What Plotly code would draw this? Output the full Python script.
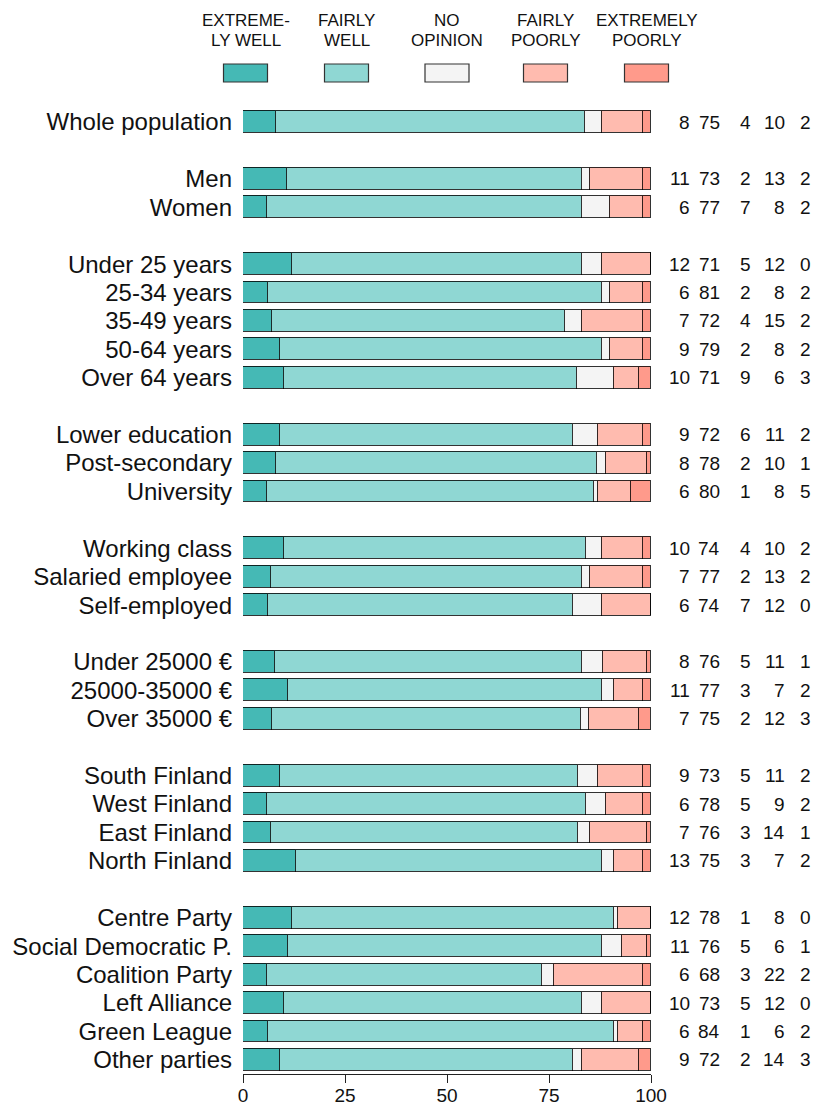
import plotly.graph_objects as go

categories = ["Whole population", "Men", "Women", "Under 25 years", "25-34 years",
              "35-49 years", "50-64 years", "Over 64 years", "Lower education",
              "Post-secondary", "University", "Working class", "Salaried employee",
              "Self-employed", "Under 25000 €", "25000-35000 €", "Over 35000 €",
              "South Finland", "West Finland", "East Finland", "North Finland",
              "Centre Party", "Social Democratic P.", "Coalition Party", "Left Alliance",
              "Green League", "Other parties"]
# row positions (gaps between groups)
row_pos = [0, 2, 3, 5, 6, 7, 8, 9, 11, 12, 13, 15, 16, 17, 19, 20, 21,
           23, 24, 25, 26, 28, 29, 30, 31, 32, 33]

extremely_well = [8, 11, 6, 12, 6, 7, 9, 10, 9, 8, 6, 10, 7, 6, 8, 11, 7, 9, 6, 7, 13, 12, 11, 6, 10, 6, 9]
fairly_well    = [75, 73, 77, 71, 81, 72, 79, 71, 72, 78, 80, 74, 77, 74, 76, 77, 75, 73, 78, 76, 75, 78, 76, 68, 73, 84, 72]
no_opinion     = [4, 2, 7, 5, 2, 4, 2, 9, 6, 2, 1, 4, 2, 7, 5, 3, 2, 5, 5, 3, 3, 1, 5, 3, 5, 1, 2]
fairly_poorly  = [10, 13, 8, 12, 8, 15, 8, 6, 11, 10, 8, 10, 13, 12, 11, 7, 12, 11, 9, 14, 7, 8, 6, 22, 12, 6, 14]
extremely_poorly = [2, 2, 2, 0, 2, 2, 2, 3, 2, 1, 5, 2, 2, 0, 1, 2, 3, 2, 2, 1, 2, 0, 1, 2, 0, 2, 3]

series_lines = [("EXTREME-", "LY WELL"), ("FAIRLY", "WELL"), ("NO", "OPINION"),
                ("FAIRLY", "POORLY"), ("EXTREMELY", "POORLY")]
series = [extremely_well, fairly_well, no_opinion, fairly_poorly, extremely_poorly]
colors = ["#45B9B5", "#8FD7D3", "#F4F4F4", "#FFBBAF", "#FF9A8B"]

x_ticks = [0, 25, 50, 75, 100]

totals = [sum(s[i] for s in series) for i in range(len(categories))]

OFF = 8  # page body margin
W, H = 819 - OFF, 1107 - OFF
L, R, T, B = 243 - OFF, 168, 100 - OFF, 33
pw = W - L - R
ph = H - T - B
row_px = 28.42
y_top = -(122 - 100) / row_px
y_bot = y_top + ph / row_px


def px_x(px):
    return (px - 243) / pw


def px_y(py):
    return 1 - (py - 100) / ph


fig = go.Figure()
for (l1, l2), vals, col in zip(series_lines, series, colors):
    fig.add_trace(go.Bar(
        y=row_pos,
        x=[v / t * 100 for v, t in zip(vals, totals)],
        orientation="h",
        name=l1 + " " + l2,
        marker=dict(color=col, line=dict(color="rgba(0,0,0,0.8)", width=1.3)),
        width=0.77,
        showlegend=False,
        hoverinfo="skip",
    ))

FONT = "Liberation Sans, Arial, sans-serif"

annotations = []
# numeric columns (right-aligned)
col_px = [692, 722, 753, 787, 813]
for vals, cx in zip(series, col_px):
    for rp, v in zip(row_pos, vals):
        annotations.append(dict(
            x=px_x(cx), xref="paper", y=rp, yref="y",
            text=str(v), showarrow=False, xanchor="right", yanchor="middle",
            font=dict(family=FONT, size=19, color="#111111"),
        ))

# legend
leg_centers = [245.5, 346.5, 447, 545.5, 646.5]
shapes = []
for (l1, l2), col, cx in zip(series_lines, colors, leg_centers):
    shapes.append(dict(
        type="rect", xref="paper", yref="paper",
        x0=px_x(cx - 22), x1=px_x(cx + 22),
        y0=px_y(82), y1=px_y(64),
        fillcolor=col, line=dict(color="#333333", width=1.2),
    ))
    for txt, yc in ((l1, 20), (l2, 41)):
        annotations.append(dict(
            x=px_x(cx), xref="paper", y=px_y(yc), yref="paper",
            text=txt, showarrow=False, xanchor="center", yanchor="middle",
            font=dict(family=FONT, size=17, color="#111111"),
        ))

fig.update_layout(
    barmode="stack",
    width=W, height=H,
    margin=dict(l=L, r=R, t=T, b=B, pad=0, autoexpand=False),
    plot_bgcolor="white", paper_bgcolor="white",
    annotations=annotations,
    shapes=shapes,
    bargap=0,
)
fig.update_xaxes(
    range=[0, 100], tickvals=x_ticks, ticktext=[str(t) for t in x_ticks],
    showgrid=False, zeroline=False, showline=True, linecolor="#222222", linewidth=1,
    ticks="outside", ticklen=8, tickcolor="#222222", automargin=False,
    ticklabelstandoff=-4,
    tickfont=dict(family=FONT, size=19, color="#111111"),
)
fig.update_yaxes(
    range=[y_bot, y_top], tickvals=row_pos, ticktext=categories,
    showgrid=False, zeroline=False, showline=False, ticks="",
    ticklabelstandoff=10, automargin=False,
    tickfont=dict(family=FONT, size=24, color="#111111"),
)

fig.write_html("out.html")
